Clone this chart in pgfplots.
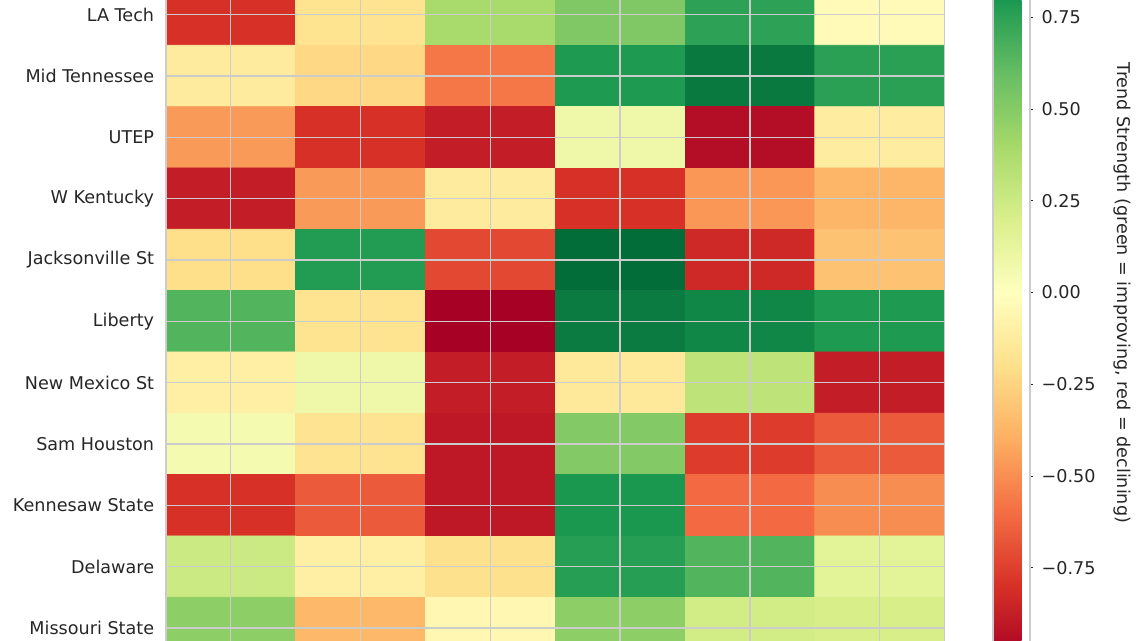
\documentclass[border=0pt]{standalone}
\usepackage{pgfplots}
\pgfplotsset{compat=1.18}
\usepackage{fontspec}
\setmainfont{DejaVu Sans}
\definecolor{txt}{RGB}{38,38,38}
\definecolor{gridc}{RGB}{204,204,204}
\begin{document}
\begin{tikzpicture}
\useasboundingbox (0,0) rectangle (570pt,320.5pt);
\clip (0,0) rectangle (570pt,320.5pt);
\begin{axis}[
  at={(82.85pt,-8.8pt)}, anchor=south west,
  scale only axis, width=389.45pt, height=337.3pt,
  xmin=-0.5, xmax=5.5, ymin=-0.5, ymax=10.5, y dir=reverse,
  xtick={0,1,2,3,4,5}, xticklabels={},
  ytick={0,1,2,3,4,5,6,7,8,9,10},
  yticklabels={LA Tech, Mid Tennessee, UTEP, W Kentucky, Jacksonville St, Liberty, New Mexico St, Sam Houston, Kennesaw State, Delaware, Missouri State},
  major tick length=0pt,
  yticklabel style={font=\fontsize{8.8pt}{10pt}\selectfont, text=txt, inner sep=0pt, anchor=east, xshift=-5.6pt},
  grid=major, grid style={gridc, line width=0.7pt},
  axis on top,
  axis line style={gridc, line width=0.85pt},
  colormap={RdYlGn}{rgb255=(165,0,38) rgb255=(215,48,39) rgb255=(244,109,67) rgb255=(253,174,97) rgb255=(254,224,139) rgb255=(255,255,191) rgb255=(217,239,139) rgb255=(166,217,106) rgb255=(102,189,99) rgb255=(26,152,80) rgb255=(0,104,55)},
  point meta min=-1, point meta max=1,
  colorbar,
  colorbar style={
    at={(parent axis.south east)}, anchor=south west, xshift=15.7pt, yshift=-0.5pt,
    scale only axis, width=18.3pt, height=367pt,
    xtick=\empty,
    ytick={-0.75,-0.5,-0.25,0,0.25,0.5,0.75},
    yticklabels={−0.75,−0.50,−0.25,0.00,0.25,0.50,0.75},
    yticklabel pos=right, ytick pos=right,
    yticklabel style={font=\fontsize{8.8pt}{10pt}\selectfont, text=txt, inner sep=0pt, anchor=west, xshift=4pt},
    major tick length=1.75pt, tick align=outside, tick style={txt, line width=0.5pt},
    axis line style={gridc, line width=0.85pt},
    ymajorgrids=false, xmajorgrids=false,
  },
]
\addplot[matrix plot*, mesh/cols=6, mesh/ordering=x varies, point meta=explicit] table[meta=c] {
x y c
0 0 -0.80
1 0 -0.18
2 0 0.39
3 0 0.52
4 0 0.75
5 0 -0.03
0 1 -0.13
1 1 -0.23
2 1 -0.57
3 1 0.79
4 1 0.93
5 1 0.76
0 2 -0.46
1 2 -0.80
2 2 -0.88
3 2 0.09
4 2 -0.94
5 2 -0.12
0 3 -0.88
1 3 -0.46
2 3 -0.13
3 3 -0.80
4 3 -0.47
5 3 -0.37
0 4 -0.20
1 4 0.78
2 4 -0.72
3 4 0.98
4 4 -0.83
5 4 -0.32
0 5 0.65
1 5 -0.18
2 5 -0.99
3 5 0.92
4 5 0.87
5 5 0.79
0 6 -0.10
1 6 0.09
2 6 -0.88
3 6 -0.14
4 6 0.31
5 6 -0.88
0 7 0.06
1 7 -0.18
2 7 -0.90
3 7 0.51
4 7 -0.76
5 7 -0.66
0 8 -0.80
1 8 -0.66
2 8 -0.90
3 8 0.80
4 8 -0.61
5 8 -0.50
0 9 0.25
1 9 -0.10
2 9 -0.19
3 9 0.77
4 9 0.65
5 9 0.15
0 10 0.48
1 10 -0.36
2 10 -0.05
3 10 0.48
4 10 0.23
5 10 0.21
};
\end{axis}
\node[rotate=-90, font=\fontsize{8.8pt}{10pt}\selectfont, text=txt, inner sep=0pt] at (561pt,174pt) {Trend Strength (green = improving, red = declining)};
\end{tikzpicture}
\end{document}
